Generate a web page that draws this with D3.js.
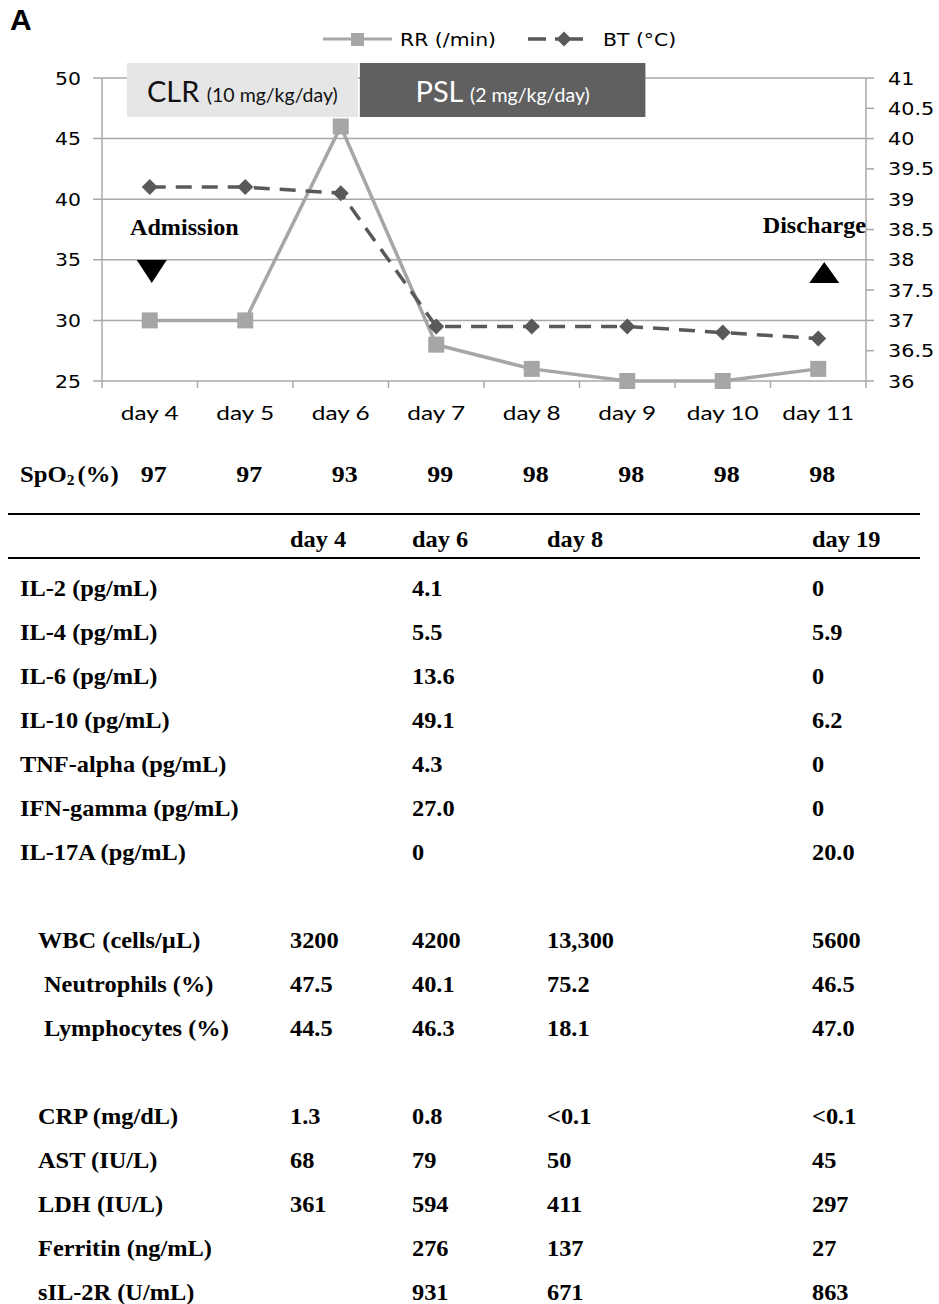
<!DOCTYPE html>
<html><head><meta charset="utf-8">
<script src="https://cdn.jsdelivr.net/npm/d3@7"></script>
<style>body{margin:0;background:#fff}</style>
</head><body><svg id="c" width="939" height="1304"></svg>
<script>
// ---------- data ----------
const days = ["day 4","day 5","day 6","day 7","day 8","day 9","day 10","day 11"];
const rr   = [30, 30, 46, 28, 26, 25, 25, 26];
const bt   = [39.2, 39.2, 39.1, 36.9, 36.9, 36.9, 36.8, 36.7];
const spo2 = [97, 97, 93, 99, 98, 98, 98, 98];
const rrTicks = [25, 30, 35, 40, 45, 50];
const btTicks = [36, 36.5, 37, 37.5, 38, 38.5, 39, 39.5, 40, 40.5, 41];
const treatNames = ["CLR", "PSL"];
const treatDoses = ["(10 mg/kg/day)", "(2 mg/kg/day)"];
const treatFrom  = [0.26, 2.70];   // in day-band units from the first band edge
const treatTo    = [2.68, 5.69];
const tableCols = ["day 4", "day 6", "day 8", "day 19"];
const cytoLabels = ["IL-2 (pg/mL)","IL-4 (pg/mL)","IL-6 (pg/mL)","IL-10 (pg/mL)","TNF-alpha (pg/mL)","IFN-gamma (pg/mL)","IL-17A (pg/mL)"];
const cytoValues = [
  ["", "4.1", "", "0"],
  ["", "5.5", "", "5.9"],
  ["", "13.6", "", "0"],
  ["", "49.1", "", "6.2"],
  ["", "4.3", "", "0"],
  ["", "27.0", "", "0"],
  ["", "0", "", "20.0"]
];
const cbcLabels = ["WBC (cells/\u00b5L)", " Neutrophils (%)", " Lymphocytes (%)"];
const cbcValues = [
  ["3200", "4200", "13,300", "5600"],
  ["47.5", "40.1", "75.2", "46.5"],
  ["44.5", "46.3", "18.1", "47.0"]
];
const chemLabels = ["CRP (mg/dL)","AST (IU/L)","LDH (IU/L)","Ferritin (ng/mL)","sIL-2R (U/mL)"];
const chemValues = [
  ["1.3", "0.8", "<0.1", "<0.1"],
  ["68", "79", "50", "45"],
  ["361", "594", "411", "297"],
  ["", "276", "137", "27"],
  ["", "931", "671", "863"]
];

// ---------- helpers ----------
const svg = d3.select("#c");
const SANS = "DejaVu Sans", CAL = "Lato", SERIF = "Liberation Serif";
function T(p, x, y, s, o) {
  o = o || {};
  return p.append("text")
    .attr("transform", `translate(${x},${y}) scale(${o.sx || 1},1)`)
    .attr("font-family", o.ff || SANS)
    .attr("font-size", o.fs || 16)
    .attr("font-weight", o.fw || "normal")
    .attr("text-anchor", o.anchor || "start")
    .attr("fill", o.fill || "#000")
    .text(s);
}

// ---------- scales ----------
const x = d3.scaleBand().domain(days).range([102, 866]).padding(0);
const bw = x.bandwidth();
const cx = d => x(d) + bw / 2;
const yL = d3.scaleLinear().domain([25, 50]).range([381, 78]);
const yR = d3.scaleLinear().domain([36, 41]).range([381, 78]);

// panel letter
T(svg, 10, 30, "A", {ff: "Liberation Sans", fs: 30, fw: "bold"});

// gridlines
const GRID = "#a8a8a8";
svg.append("g").selectAll("line").data(rrTicks).join("line")
  .attr("x1", 93).attr("x2", 866)
  .attr("y1", d => yL(d)).attr("y2", d => yL(d))
  .attr("stroke", GRID).attr("stroke-width", 1.5);

// axes lines
svg.append("line").attr("x1", 102).attr("x2", 102).attr("y1", yL(50)).attr("y2", 388).attr("stroke", GRID).attr("stroke-width", 1.5);
svg.append("line").attr("x1", 866).attr("x2", 866).attr("y1", yR(41)).attr("y2", 388).attr("stroke", GRID).attr("stroke-width", 1.5);
// x ticks at band boundaries
svg.append("g").selectAll("line").data(days.slice(1)).join("line")
  .attr("x1", d => x(d)).attr("x2", d => x(d)).attr("y1", yL(25)).attr("y2", 388)
  .attr("stroke", GRID).attr("stroke-width", 1.5);
// right ticks
svg.append("g").selectAll("line").data(btTicks).join("line")
  .attr("x1", 866).attr("x2", 874).attr("y1", d => yR(d)).attr("y2", d => yR(d))
  .attr("stroke", GRID).attr("stroke-width", 1.5);

// tick labels
rrTicks.forEach(v => T(svg, 81, yL(v) + 6.5, String(v), {fs: 17, sx: 1.2, anchor: "end"}));
btTicks.forEach(v => T(svg, 888, yR(v) + 6.5, String(v), {fs: 17, sx: 1.22}));
days.forEach(d => T(svg, cx(d), 420, d, {ff: CAL, fs: 19.5, sx: 1.25, anchor: "middle"}));

// treatment boxes
const boxFill = ["#e6e6e6", "#606060"], boxText = ["#111", "#fff"];
treatNames.forEach((n, i) => {
  const x0 = 102 + treatFrom[i] * bw, x1 = 102 + treatTo[i] * bw;
  svg.append("rect").attr("x", x0).attr("y", 63).attr("width", x1 - x0).attr("height", 54).attr("fill", boxFill[i]);
  const t = svg.append("text").attr("x", (x0 + x1) / 2).attr("y", 102)
    .attr("text-anchor", "middle").attr("font-family", CAL).attr("fill", boxText[i]);
  t.append("tspan").attr("font-size", 29).text(n + " ");
  t.append("tspan").attr("font-size", 19.5).text(treatDoses[i]);
});

// lines
const RRC = "#a6a6a6", BTC = "#595959";
const lineRR = d3.line().x((d, i) => cx(days[i])).y(d => yL(d));
const lineBT = d3.line().x((d, i) => cx(days[i])).y(d => yR(d));
svg.append("path").attr("d", lineRR(rr)).attr("fill", "none").attr("stroke", RRC).attr("stroke-width", 3.5);
svg.append("path").attr("d", lineBT(bt)).attr("fill", "none").attr("stroke", BTC).attr("stroke-width", 3.5).attr("stroke-dasharray", "16,10");
svg.append("g").selectAll("rect").data(rr).join("rect")
  .attr("x", (d, i) => cx(days[i]) - 8).attr("y", d => yL(d) - 8).attr("width", 16).attr("height", 16).attr("fill", RRC);
const diamond = (px, py, r) => `M${px},${py - r}L${px + r},${py}L${px},${py + r}L${px - r},${py}Z`;
svg.append("g").selectAll("path").data(bt).join("path")
  .attr("d", (d, i) => diamond(cx(days[i]), yR(d), 8)).attr("fill", BTC);

// legend
svg.append("line").attr("x1", 323).attr("x2", 392).attr("y1", 39).attr("y2", 39).attr("stroke", RRC).attr("stroke-width", 3);
svg.append("rect").attr("x", 351).attr("y", 33).attr("width", 13).attr("height", 13).attr("fill", RRC);
T(svg, 400, 46, "RR (/min)", {fs: 17, sx: 1.2});
svg.append("line").attr("x1", 528).attr("x2", 583).attr("y1", 39).attr("y2", 39).attr("stroke", BTC).attr("stroke-width", 3.5).attr("stroke-dasharray", "18,9,40");
svg.append("path").attr("d", diamond(564, 39, 7.5)).attr("fill", BTC);
T(svg, 603, 46, "BT (\u00b0C)", {fs: 17, sx: 1.2});

// admission / discharge
T(svg, 130, 235, "Admission", {ff: SERIF, fs: 23, fw: "bold", sx: 1.05});
T(svg, 866, 233, "Discharge", {ff: SERIF, fs: 23, fw: "bold", sx: 1.05, anchor: "end"});
const ax = cx(days[0]) + 2, dx = cx(days[7]) + 6;
svg.append("path").attr("d", `M${ax - 15},260L${ax + 15},260L${ax},283Z`).attr("fill", "#000");
svg.append("path").attr("d", `M${dx - 15},283L${dx + 15},283L${dx},262Z`).attr("fill", "#000");

// SpO2 row
const sp = T(svg, 20, 482, "", {ff: SERIF, fs: 24, fw: "bold", sx: 1.03});
sp.append("tspan").text("SpO");
sp.append("tspan").attr("font-size", 15).attr("dy", 3).text("2");
sp.append("tspan").attr("dy", -3).attr("dx", 3).text("(%)");
spo2.forEach((v, i) => T(svg, cx(days[i]) + 4, 482, String(v), {ff: SERIF, fs: 24, fw: "bold", sx: 1.08, anchor: "middle"}));

// ---------- table ----------
const colX = [290, 412, 547, 812];
svg.append("line").attr("x1", 8).attr("x2", 920).attr("y1", 514).attr("y2", 514).attr("stroke", "#000").attr("stroke-width", 2.2);
svg.append("line").attr("x1", 8).attr("x2", 920).attr("y1", 558).attr("y2", 558).attr("stroke", "#000").attr("stroke-width", 2.2);
const TO = {ff: SERIF, fs: 23, fw: "bold", sx: 1.06};
tableCols.forEach((c, j) => T(svg, colX[j], 547, c, TO));
const rowY = k => 596 + 44 * k;
function block(labels, values, k0, lx, lx2) {
  labels.forEach((l, i) => {
    const y = rowY(k0 + i);
    const lab = l.startsWith(" ") ? l.slice(1) : l;
    T(svg, l.startsWith(" ") ? lx2 : lx, y, lab, TO);
    values[i].forEach((v, j) => { if (v) T(svg, colX[j], y, v, TO); });
  });
}
block(cytoLabels, cytoValues, 0, 20, 20);
block(cbcLabels, cbcValues, 8, 38, 44);
block(chemLabels, chemValues, 12, 38, 38);
</script></body></html>
